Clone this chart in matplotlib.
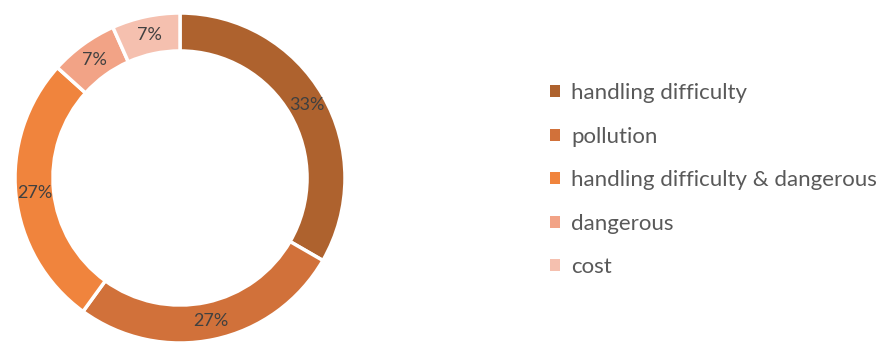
import matplotlib
matplotlib.use('Agg')
import matplotlib.pyplot as plt
from matplotlib.patches import Patch

plt.rcParams['font.family'] = ['Lato', 'DejaVu Sans']

# reasons, counts per reason
categories = ['handling difficulty', 'pollution', 'handling difficulty & dangerous',
              'dangerous', 'cost']
counts = [5, 4, 4, 1, 1]
colors = ['#AE622E', '#D1713A', '#F0843D', '#F2A386', '#F5C0AF']

fig = plt.figure(figsize=(8.85, 3.43), dpi=100)
ax = fig.add_axes([15 / 885, 0 / 343, 330 / 885, 330 / 343])

wedges, texts, autotexts = ax.pie(
    counts, colors=colors, startangle=90, counterclock=False, radius=1,
    autopct='%1.0f%%', pctdistance=0.885,
    wedgeprops=dict(width=0.23, edgecolor='white', linewidth=2.5),
    textprops=dict(color='#404040', fontsize=13))
ax.set_xlim(-1, 1)
ax.set_ylim(-1, 1)
ax.set_aspect('equal')

handles = [Patch(facecolor=c, edgecolor='none') for c in colors]
fig.legend(handles, categories, loc='upper left', bbox_to_anchor=(530 / 885, 1 - 63 / 343),
           frameon=False, fontsize=16, labelcolor='#595959',
           handlelength=0.45, handleheight=0.45, handletextpad=0.5, labelspacing=1.06)

plt.savefig('out.png', dpi=100)
